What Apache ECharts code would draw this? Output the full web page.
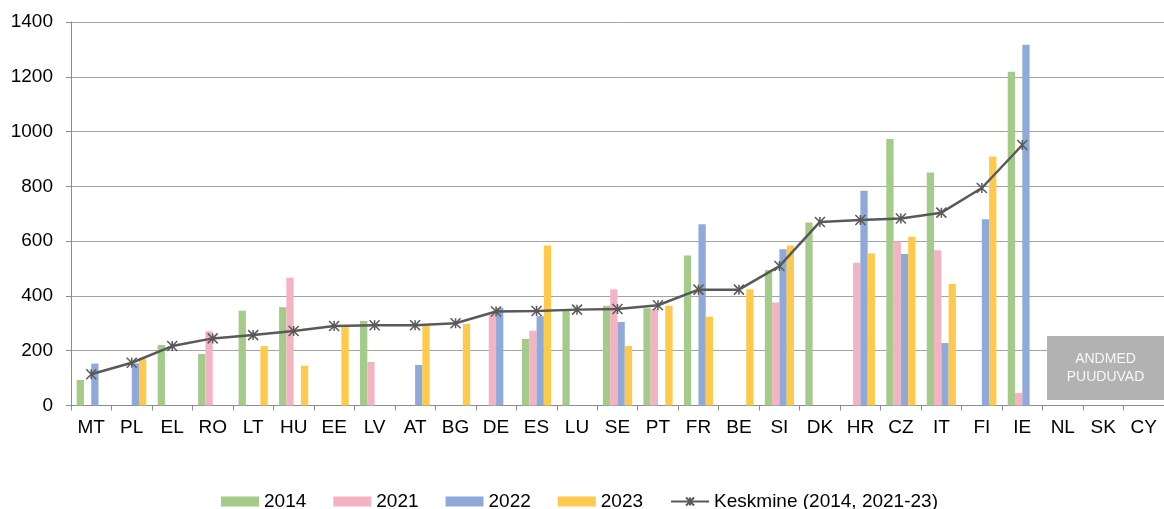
<!DOCTYPE html>
<html>
<head>
<meta charset="utf-8">
<title>Keskmine</title>
<script src="https://cdn.jsdelivr.net/npm/echarts@6/dist/echarts.min.js"></script>
<style>
  html, body { margin: 0; padding: 0; background: #fff; }
  #chart { width: 1164px; height: 509px; }
</style>
</head>
<body>
<div id="chart"></div>
<script>
// riigid (x-telg)
const countries = ['MT', 'PL', 'EL', 'RO', 'LT', 'HU', 'EE', 'LV', 'AT', 'BG', 'DE', 'ES', 'LU', 'SE',
  'PT', 'FR', 'BE', 'SI', 'DK', 'HR', 'CZ', 'IT', 'FI', 'IE', 'NL', 'SK', 'CY']

// aastate väärtused, null = andmed puuduvad
const v2014 = [93, null, 221, 188, 346, 359, null, 309, null, null, null, 243, 345, 364,
  355, 548, null, 495, 668, null, 973, 851, null, 1218, null, null, null]
const v2021 = [null, null, null, 271, null, 466, null, 159, null, null, 330, 273, null, 424,
  352, null, null, 376, null, 521, 599, 567, null, 46, null, null, null]
const v2022 = [153, 154, null, null, null, null, null, null, 148, null, 357, 326, null, 305,
  null, 662, null, 570, null, 784, 553, 228, 680, 1317, null, null, null]
const v2023 = [null, 169, null, null, 217, 145, 286, null, 290, 298, null, 584, null, 217,
  364, 324, 424, 584, null, 555, 616, 444, 909, null, null, null, null]
// keskmine (2014, 2021-23)
const avg = [114, 156, 217, 245, 257, 272, 290, 293, 293, 300, 343, 345, 350, 352,
  366, 423, 423, 509, 670, 677, 683, 704, 794, 951, null, null, null]

// y-telje jaotus
const yTicks = { min: 0, max: 1400, step: 200 }

const FONT = '"Liberation Sans", Arial, sans-serif'

const chart = echarts.init(document.getElementById('chart'))

function barSeries(name, data, color) {
  return {
    name: name,
    type: 'bar',
    data: data,
    barGap: '0%',
    barCategoryGap: '28%',
    itemStyle: { color: color },
    emphasis: { disabled: true }
  }
}

chart.setOption({
  animation: false,
  textStyle: { fontFamily: FONT },
  grid: {
    left: 71,
    right: -10, // joonis ulatub üle pildi parema serva
    top: 22,
    bottom: 103.5
  },
  legend: {
    left: 216,
    top: 487,
    itemWidth: 38,
    itemHeight: 10,
    itemGap: 27,
    textStyle: { fontSize: 19, color: '#000', fontFamily: FONT },
    data: [
      { name: '2014', icon: 'rect' },
      { name: '2021', icon: 'rect' },
      { name: '2022', icon: 'rect' },
      { name: '2023', icon: 'rect' },
      'Keskmine (2014, 2021-23)'
    ]
  },
  xAxis: {
    type: 'category',
    data: countries,
    axisLine: { lineStyle: { color: '#8c8c8c', width: 1 } },
    axisTick: { show: true, length: 5, lineStyle: { color: '#8c8c8c' } },
    axisLabel: {
      interval: 0,
      margin: 13,
      fontSize: 19,
      color: '#000'
    }
  },
  yAxis: {
    type: 'value',
    min: yTicks.min,
    max: yTicks.max,
    interval: yTicks.step,
    axisLine: { show: true, lineStyle: { color: '#8c8c8c', width: 1 } },
    axisTick: { show: true, length: 5, lineStyle: { color: '#8c8c8c' } },
    axisLabel: {
      margin: 18,
      fontSize: 19,
      color: '#000',
      formatter: function(v) { return String(v) } // ilma tuhandete eraldajata
    },
    splitLine: { lineStyle: { color: '#a3a3a3', width: 1 } }
  },
  series: [
    barSeries('2014', v2014, '#a4cb89'),
    barSeries('2021', v2021, '#f4b3c3'),
    barSeries('2022', v2022, '#8faad8'),
    barSeries('2023', v2023, '#ffc94b'),
    {
      name: 'Keskmine (2014, 2021-23)',
      type: 'line',
      data: avg,
      symbol: 'path://M0,0L10,10M10,0L0,10M5,0L5,10',
      symbolSize: 10,
      lineStyle: { color: '#595959', width: 2.5 },
      itemStyle: { color: '#595959', borderColor: '#595959', borderWidth: 1.5 },
      z: 5
    }
  ],
  // andmed puuduvad – hall kast
  graphic: [
    {
      type: 'rect',
      shape: { x: 1047, y: 336, width: 130, height: 64 },
      style: { fill: '#b2b2b2' },
      z: 10
    },
    {
      type: 'text',
      x: 1105.5,
      y: 368,
      style: {
        text: 'ANDMED\nPUUDUVAD',
        fill: '#f7f7f7',
        font: '14px "Liberation Sans", Arial, sans-serif',
        lineHeight: 18,
        align: 'center',
        verticalAlign: 'middle'
      },
      z: 11
    }
  ]
})
</script>
</body>
</html>
